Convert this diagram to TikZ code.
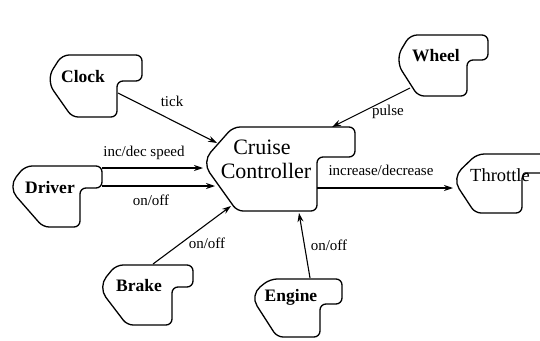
\documentclass[tikz,border=0pt]{standalone}
\usepackage{fontspec}
\setmainfont{Liberation Serif}
\usetikzlibrary{arrows.meta}

% Outline of an agent: pointed left side, rounded right side with a step.
% #1 left  #2 top  #3 right  #4 bottom  #5 step x  #6 step y
% #7 top-left x  #8 bottom-left x  #9 y of the left point
\newcommand\agentoutline[9]{%
  \draw[outline] (#7,#2) -- (#3,#2) -- (#3,#6) -- (#5,#6) -- (#5,#4)
    -- (#8,#4) [rounded corners=13pt] -- (#1,#9) [rounded corners=7pt] -- cycle;}

\begin{document}
\begin{tikzpicture}[x=1pt,y=-1pt,
  outline/.style={line width=1.3pt,rounded corners=6pt,line join=round},
  agent/.style={font=\fontsize{17.5}{17.5}\selectfont\bfseries,inner sep=0pt},
  flow/.style={line width=1.1pt,-{Stealth[length=9pt,width=6pt]}},
  lbl/.style={font=\fontsize{15}{15}\selectfont,inner sep=0pt}]
\clip (0,0) rectangle (540,340);
\fill[white] (0,0) rectangle (540,340);

% outlines
\agentoutline{46}{55}{142}{117}{117}{81}{62}{72}{80}
\agentoutline{8}{166}{102}{227}{80}{188}{25}{43}{187}
\agentoutline{202}{127}{355}{211}{317}{157}{233}{237}{162}
\agentoutline{395}{35}{488}{96}{467}{60}{410}{418}{60}
\agentoutline{452}{154}{580}{213}{522}{173}{477}{475}{178}
\agentoutline{98}{265}{193}{325}{172}{287}{116}{127}{287}
\agentoutline{250}{279}{342}{337}{320}{304}{270}{277}{295}

% names
\node[agent] (clock) at (83,77) {Clock};
\node[agent] (driver) at (50,188) {Driver};
\node[agent] (wheel) at (436,56) {Wheel};
\node[agent] (brake) at (139,286) {Brake};
\node[agent] (engine) at (291,297) {Engine};
\node[agent,font=\fontsize{18.5}{18.5}\selectfont] (throttle) at (500,175) {Throttle};
\node[inner sep=0pt,font=\fontsize{22}{22}\selectfont] (cruise) at (262,147) {Cruise};
\node[inner sep=0pt,font=\fontsize{22}{22}\selectfont] (controller) at (266,171) {Controller};

% connector ends
\coordinate (clock-out) at (118,93);
\coordinate (cc-tick) at (217,143);
\coordinate (driver-speed) at (102,168);
\coordinate (cc-speed) at (203,168);
\coordinate (driver-onoff) at (102,186);
\coordinate (cc-onoff) at (215,186);
\coordinate (brake-out) at (153,264);
\coordinate (cc-brake) at (231,206);
\coordinate (engine-out) at (310,278);
\coordinate (cc-engine) at (299,213);
\coordinate (wheel-out) at (410,88);
\coordinate (cc-pulse) at (332,127);
\coordinate (cc-out) at (317,188);
\coordinate (throttle-in) at (453,188);

% connectors
\draw[flow] (clock-out) -- (cc-tick);
\draw[flow] (driver-speed) -- (cc-speed);
\draw[flow] (driver-onoff) -- (cc-onoff);
\draw[flow] (brake-out) -- (cc-brake);
\draw[flow] (engine-out) -- (cc-engine);
\draw[flow] (wheel-out) -- (cc-pulse);
\draw[flow] (cc-out) -- (throttle-in);

% labels
\node[lbl] (l-tick) at (172,101) {tick};
\node[lbl] (l-speed) at (144,153) {inc/dec speed};
\node[lbl] (l-onoff) at (151,200) {on/off};
\node[lbl] (l-brake) at (207,243) {on/off};
\node[lbl] (l-engine) at (329,245) {on/off};
\node[lbl] (l-pulse) at (388,112) {pulse};
\node[lbl] (l-throttle) at (381,170) {increase/decrease};
\end{tikzpicture}
\end{document}
